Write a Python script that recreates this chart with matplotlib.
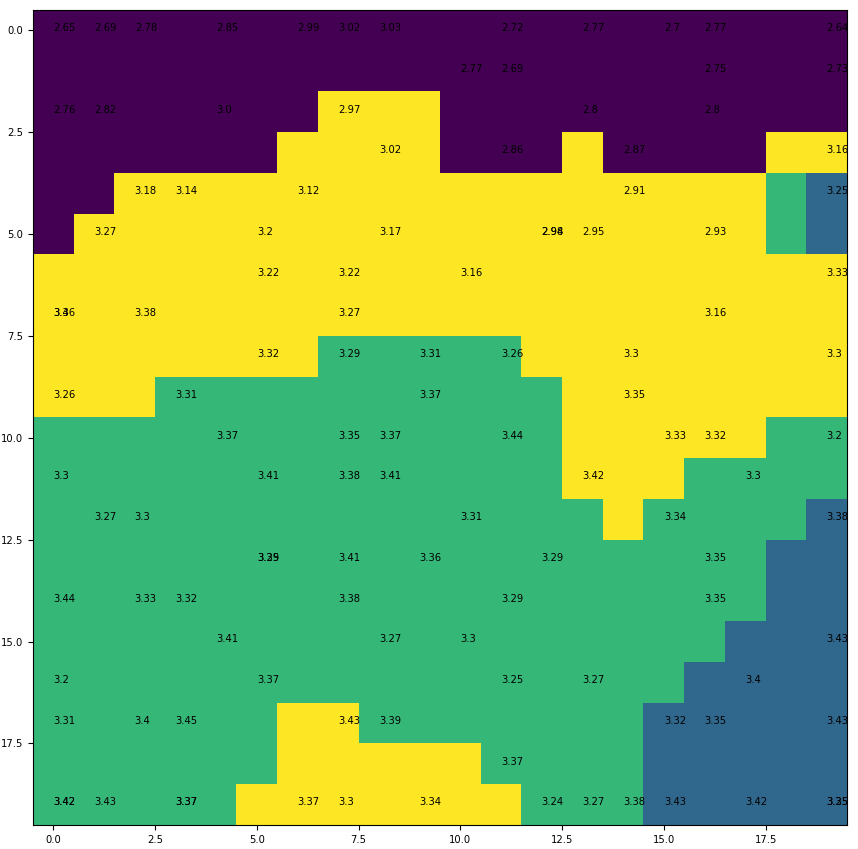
import numpy as np
import matplotlib
matplotlib.use("Agg")
import matplotlib.pyplot as plt
from matplotlib import font_manager

# 0 = roxo, 1 = azul, 2 = verde, 3 = amarelo
linhas = [
    "00000000000000000000",
    "00000000000000000000",
    "00000003330000000000",
    "00000033330003000033",
    "00333333333333333321",
    "03333333333333333321",
    "33333333333333333333",
    "33333333333333333333",
    "33333332222233333333",
    "33322222222223333333",
    "22222222222223333322",
    "22222222222223332222",
    "22222222222222322221",
    "22222222222222222211",
    "22222222222222222211",
    "22222222222222222111",
    "22222222222222221111",
    "22222233222222211111",
    "22222233333222211111",
    "22222333333322211111",
]

rotulo_x = [0, 1, 2, 4, 6, 7, 8, 11, 13, 15, 16, 19,
            10, 11, 16, 19,
            0, 1, 4, 7, 13, 16,
            8, 11, 14, 19,
            2, 3, 6, 14, 19,
            1, 5, 8, 12, 12, 13, 16,
            5, 7, 10, 19,
            0, 0, 2, 7, 16,
            5, 7, 9, 11, 14, 19,
            0, 3, 9, 14,
            4, 7, 8, 11, 15, 16, 19,
            0, 5, 7, 8, 13, 17,
            1, 2, 10, 15, 19,
            5, 5, 7, 9, 12, 16,
            0, 2, 3, 7, 11, 16,
            4, 8, 10, 19,
            0, 5, 11, 13, 17,
            0, 2, 3, 7, 8, 15, 16, 19,
            11,
            0, 0, 1, 3, 3, 6, 7, 9, 12, 13, 14, 15, 17, 19, 19]
rotulo_y = [0] * 12 + [1] * 4 + [2] * 6 + [3] * 4 + [4] * 5 + [5] * 7 + \
           [6] * 4 + [7] * 5 + [8] * 6 + [9] * 4 + [10] * 7 + [11] * 6 + \
           [12] * 5 + [13] * 6 + [14] * 6 + [15] * 4 + [16] * 5 + [17] * 8 + \
           [18] * 1 + [19] * 15
rotulo_txt = ["2.65", "2.69", "2.78", "2.85", "2.99", "3.02", "3.03", "2.72", "2.77", "2.7", "2.77", "2.64",
              "2.77", "2.69", "2.75", "2.73",
              "2.76", "2.82", "3.0", "2.97", "2.8", "2.8",
              "3.02", "2.86", "2.87", "3.16",
              "3.18", "3.14", "3.12", "2.91", "3.25",
              "3.27", "3.2", "3.17", "2.98", "2.94", "2.95", "2.93",
              "3.22", "3.22", "3.16", "3.33",
              "3.36", "3.4", "3.38", "3.27", "3.16",
              "3.32", "3.29", "3.31", "3.26", "3.3", "3.3",
              "3.26", "3.31", "3.37", "3.35",
              "3.37", "3.35", "3.37", "3.44", "3.33", "3.32", "3.2",
              "3.3", "3.41", "3.38", "3.41", "3.42", "3.3",
              "3.27", "3.3", "3.31", "3.34", "3.38",
              "3.35", "3.29", "3.41", "3.36", "3.29", "3.35",
              "3.44", "3.33", "3.32", "3.38", "3.29", "3.35",
              "3.41", "3.27", "3.3", "3.43",
              "3.2", "3.37", "3.25", "3.27", "3.4",
              "3.31", "3.4", "3.45", "3.43", "3.39", "3.32", "3.35", "3.43",
              "3.37",
              "3.42", "3.42", "3.43", "3.37", "3.37", "3.37", "3.3", "3.34",
              "3.24", "3.27", "3.38", "3.43", "3.42", "3.35", "3.25"]

grade = np.array([[int(c) for c in linha] for linha in linhas])

nomes = {f.name for f in font_manager.fontManager.ttflist}
fonte = "Liberation Sans Narrow" if "Liberation Sans Narrow" in nomes else "DejaVu Sans"
plt.rcParams["font.family"] = [fonte, "DejaVu Sans"]

fig = plt.figure(figsize=(8.58, 8.49), dpi=100)
ax = fig.add_axes([33 / 858, 24 / 849, 814 / 858, 815 / 849])
ax.imshow(grade, cmap="viridis", vmin=0, vmax=3, aspect="auto", interpolation="nearest")

# rótulos no canto de cada célula (ha left, baseline no centro)
for x, y, t in zip(rotulo_x, rotulo_y, rotulo_txt):
    ax.text(x, y + 0.02, t, fontsize=7.2, color="black")

ax.set_xticks(np.arange(0, 20, 2.5))
ax.set_yticks(np.arange(0, 20, 2.5))
ax.tick_params(labelsize=7.2, length=3.5)

fig.savefig("out.png", dpi=100)
